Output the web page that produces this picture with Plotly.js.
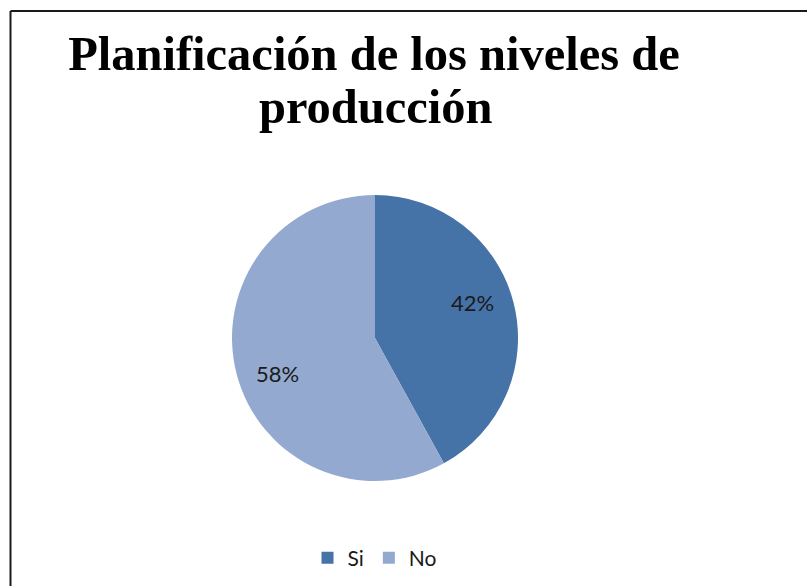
<!DOCTYPE html>
<html>
<head>
<meta charset="utf-8">
<script src="https://cdn.plot.ly/plotly-3.0.1.min.js"></script>
<style>
  html, body { margin: 0; padding: 0; background: #ffffff; overflow: hidden; }
  #chart { width: 807px; height: 586px; }
</style>
</head>
<body>
<div id="chart"></div>
<script>
const categories = ["Si", "No"];
const values = [42, 58];
const sliceColors = ["#4572A7", "#93A9CF"];
const titleLine1 = "Planificación de los niveles de";
const titleLine2 = "producción";

const W = 807, H = 586;
const cx = 375, cy = 338, r = 143;
const pieDomain = { x: [(cx - r) / W, (cx + r) / W], y: [1 - (cy + r) / H, 1 - (cy - r) / H] };

// visible pie
const pieTrace = {
  type: "pie",
  labels: categories,
  values: values,
  sort: false,
  direction: "clockwise",
  rotation: 0,
  marker: { colors: sliceColors, line: { width: 0 } },
  textinfo: "none",
  hoverinfo: "label+percent",
  domain: pieDomain
};

// transparent ring on top carrying the percentage labels (places them further out)
const labelTrace = {
  type: "pie",
  labels: categories,
  values: values,
  sort: false,
  direction: "clockwise",
  rotation: -5.5,
  hole: 0.45,
  marker: { colors: ["rgba(0,0,0,0)", "rgba(0,0,0,0)"], line: { width: 0 } },
  textinfo: "percent",
  textposition: "inside",
  insidetextorientation: "horizontal",
  textfont: { family: "Lato, Open Sans, sans-serif", size: 22, color: "#1a1a1a" },
  showlegend: false,
  hoverinfo: "skip",
  domain: pieDomain
};

const layout = {
  width: W,
  height: H,
  margin: { l: 0, r: 0, t: 0, b: 0 },
  paper_bgcolor: "#ffffff",
  plot_bgcolor: "#ffffff",
  showlegend: true,
  title: {
    text: titleLine1,
    font: { family: "Liberation Serif, Times New Roman, serif", size: 48.5, color: "#000000", weight: "bold" },
    x: 374 / W, xanchor: "center", xref: "paper",
    y: 1 - 53.5 / H, yanchor: "middle", yref: "container"
  },
  annotations: [{
    text: "<b>" + titleLine2 + "</b>",
    showarrow: false,
    xref: "paper", yref: "paper",
    x: 376 / W, xanchor: "center",
    y: 1 - 106 / H, yanchor: "middle",
    font: { family: "Liberation Serif, Times New Roman, serif", size: 48.5, color: "#000000" }
  }],
  legend: {
    orientation: "h",
    x: 375 / W, xanchor: "center",
    y: 1 - 558 / H, yanchor: "middle",
    font: { family: "Lato, Open Sans, sans-serif", size: 21, color: "#1a1a1a" },
    bgcolor: "rgba(0,0,0,0)",
    traceorder: "normal"
  },
  shapes: [
    { type: "line", xref: "paper", yref: "paper", x0: 10.5 / W, x1: 1.02, y0: 1 - 11 / H, y1: 1 - 11 / H, line: { color: "#1a1a1a", width: 2 } },
    { type: "line", xref: "paper", yref: "paper", x0: 10.5 / W, x1: 10.5 / W, y0: 1 - 11 / H, y1: -0.02, line: { color: "#1a1a1a", width: 2 } }
  ]
};

Plotly.newPlot("chart", [pieTrace, labelTrace], layout, { displayModeBar: false, staticPlot: true });
</script>
</body>
</html>
